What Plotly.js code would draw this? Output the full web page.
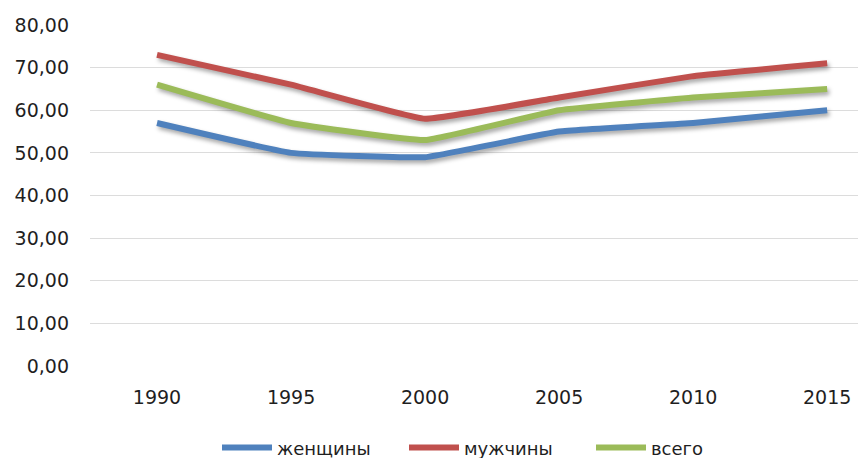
<!DOCTYPE html>
<html><head><meta charset="utf-8">
<script src="https://cdn.plot.ly/plotly-3.0.1.min.js"></script>
<style>
body{margin:0;background:#fff;}
#chart{width:858px;height:458px;}
.scatterlayer .trace path.js-line{filter:drop-shadow(2px 3px 2px rgba(0,0,0,0.35));}
</style></head>
<body><div id="chart"></div>
<script>
const years = ['1990','1995','2000','2005','2010','2015'];
const women = [57, 50, 49, 55, 57, 60];
const men = [73, 66, 58, 63, 68, 71];
const total = [66, 57, 53, 60, 63, 65];
const names = ['женщины','мужчины','всего'];
const colors = ['#4F81BD','#C0504D','#9BBB59'];
const series = [women, men, total];

const traces = series.map((s,i)=>({
  type:'scatter', mode:'lines', x:years, y:s, name:names[i],
  line:{color:colors[i], width:6, shape:'spline', smoothing:0.3}
}));

const tickFont = {family:'DejaVu Sans, sans-serif', size:19, color:'#1f1f1f'};
const legFont = {family:'DejaVu Sans, sans-serif', size:18, color:'#1f1f1f'};
const layout = {
  width:858, height:458,
  margin:{l:90, r:0, t:25, b:92},
  paper_bgcolor:'#fff', plot_bgcolor:'#fff',
  separators:', ',
  showlegend:true,
  font:tickFont,
  xaxis:{type:'category', range:[-0.5,5.23], showgrid:false, zeroline:false, showline:false,
    ticks:'', ticklabelstandoff:18, tickfont:tickFont},
  yaxis:{range:[0,80], dtick:10, tickformat:'.2f', showgrid:true, gridcolor:'#dcdcdc', gridwidth:1,
    zeroline:false, showline:false, ticks:'', ticklabelstandoff:20, tickfont:tickFont},
  legend:{orientation:'h', xref:'container', yref:'container', x:217/858, xanchor:'left', y:0.022, yanchor:'middle',
    font:legFont, itemwidth:50, entrywidth:122, entrywidthmode:'pixels'}
};
Plotly.newPlot('chart', traces, layout, {staticPlot:true});
</script></body></html>
